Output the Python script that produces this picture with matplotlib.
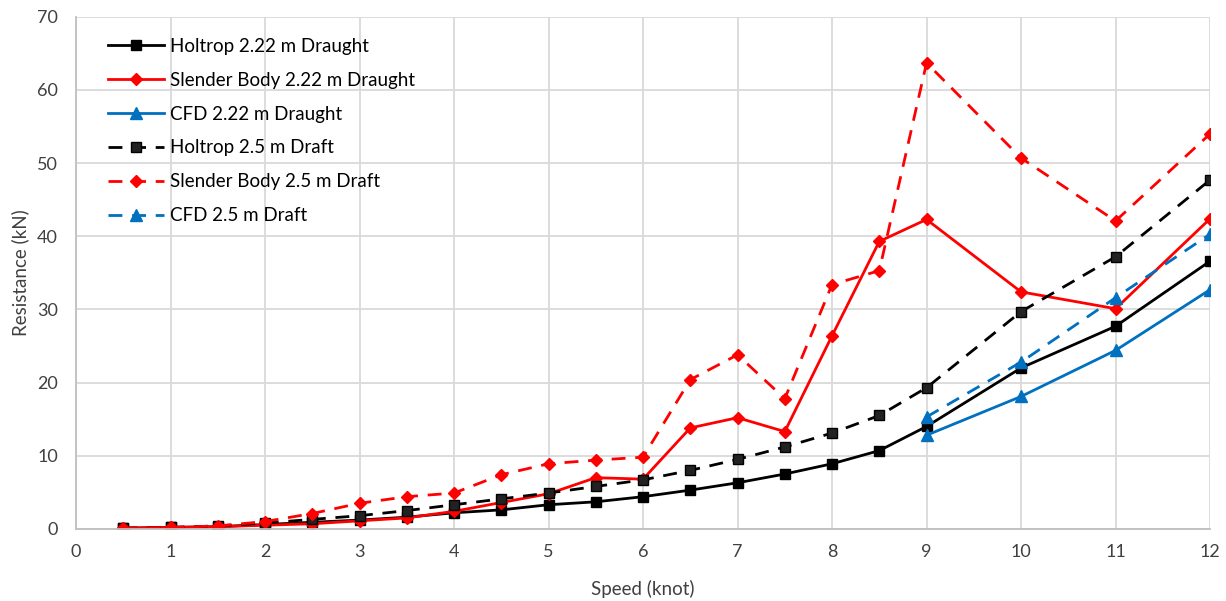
import matplotlib.pyplot as plt

# speeds (knot)
speed = [0.5, 1, 1.5, 2, 2.5, 3, 3.5, 4, 4.5, 5, 5.5, 6, 6.5, 7, 7.5, 8, 8.5, 9, 10, 11, 12]
speed_cfd = [9, 10, 11, 12]

# resistance (kN)
holtrop_222 = [0.1, 0.2, 0.3, 0.6, 0.9, 1.2, 1.6, 2.2, 2.6, 3.3, 3.7, 4.4, 5.3, 6.3, 7.5, 8.9, 10.7, 14.0, 22.0, 27.7, 36.6]
slender_222 = [0.1, 0.2, 0.3, 0.5, 0.7, 1.1, 1.5, 2.4, 3.6, 4.8, 7.0, 6.8, 13.8, 15.2, 13.3, 26.4, 39.3, 42.3, 32.4, 30.1, 42.4]
cfd_222 = [12.8, 18.1, 24.4, 32.7]
holtrop_25 = [0.1, 0.2, 0.4, 0.8, 1.3, 1.8, 2.5, 3.3, 4.1, 4.9, 5.8, 6.7, 8.0, 9.5, 11.2, 13.1, 15.5, 19.3, 29.7, 37.2, 47.7]
slender_25 = [0.1, 0.2, 0.4, 1.0, 2.1, 3.5, 4.4, 4.9, 7.4, 8.9, 9.4, 9.8, 20.4, 23.8, 17.8, 33.4, 35.3, 63.7, 50.7, 42.1, 54.0]
cfd_25 = [15.3, 22.8, 31.6, 40.3]

plt.rcParams['font.family'] = ['Lato', 'DejaVu Sans']

fig = plt.figure(figsize=(12.26, 6.01), dpi=100)
ax = fig.add_axes([0.062, 0.12, 0.925, 0.852])

dash = (0, (5, 3.5))
lw = 2.0
ax.plot(speed, holtrop_222, color='black', lw=lw, marker='s', ms=7, label='Holtrop 2.22 m Draught')
ax.plot(speed, slender_222, color='#FF0000', lw=lw, marker='D', ms=6, label='Slender Body 2.22 m Draught')
ax.plot(speed_cfd, cfd_222, color='#0070C0', lw=lw, marker='^', ms=8, label='CFD 2.22 m Draught')
ax.plot(speed, holtrop_25, color='black', lw=lw, ls=dash, marker='s', ms=7, mfc='#222222', label='Holtrop 2.5 m Draft')
ax.plot(speed, slender_25, color='#FF0000', lw=lw, ls=dash, marker='D', ms=6, label='Slender Body 2.5 m Draft')
ax.plot(speed_cfd, cfd_25, color='#0070C0', lw=lw, ls=dash, marker='^', ms=8, label='CFD 2.5 m Draft')

ax.set_xlim(0, 12)
ax.set_ylim(0, 70)
ax.set_xticks(range(0, 13))
ax.set_yticks(range(0, 71, 10))
ax.grid(True, color='#D9D9D9', lw=1.3)
ax.set_axisbelow(True)
for s in ['top', 'right']:
    ax.spines[s].set_visible(False)
for s in ['left', 'bottom']:
    ax.spines[s].set_color('#BFBFBF')
    ax.spines[s].set_linewidth(1.3)
ax.tick_params(length=0, labelsize=13, labelcolor='#404040')
ax.tick_params(axis='x', pad=11)
ax.tick_params(axis='y', pad=13)

ax.set_xlabel('Speed (knot)', fontsize=13.5, color='#404040', labelpad=14)
ax.set_ylabel('Resistance (kN)', fontsize=13.5, color='#404040', labelpad=6)

ax.legend(loc='upper left', bbox_to_anchor=(0.013, 0.992), frameon=False, fontsize=13.5,
          handlelength=3.0, labelspacing=0.9, handletextpad=0.35)

fig.savefig('out.png', dpi=100)
